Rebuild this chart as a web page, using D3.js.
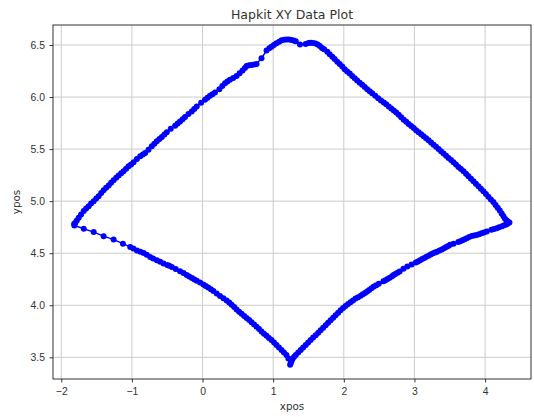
<!DOCTYPE html>
<html lang="en">
<head>
    <meta charset="UTF-8">
    <title>Hapkit XY Data Plot</title>
    <style>
        body { margin: 0; background: #fff; }
        svg { display: block; font-family: "DejaVu Sans", sans-serif; }
        .grid line { stroke: #cccccc; stroke-width: 1; }
        .axis path, .axis line { stroke: #333; }
        .axis text { fill: #333; font-size: 10.4px; }
    </style>
</head>
<body>
    <svg id="chart" width="534" height="417"></svg>

    <script src="https://d3js.org/d3.v7.min.js"></script>
    <script>
        // traced positions, edge by edge, in drawing order
        // left corner -> top
        const xUpperLeft = [
            -1.800, -1.780, -1.753, -1.720, -1.682, -1.648, -1.612, -1.578, -1.541, -1.505,
            -1.471, -1.435, -1.400, -1.365, -1.329, -1.295, -1.259, -1.222, -1.188, -1.152,
            -1.118, -1.082, -1.047, -1.012, -0.976, -0.930, -0.882, -0.845, -0.812, -0.765,
            -0.718, -0.682, -0.647, -0.610, -0.576, -0.540, -0.506, -0.450, -0.388, -0.352,
            -0.318, -0.282, -0.247, -0.200, -0.153, -0.118, -0.082, -0.020, 0.035, 0.070,
            0.106, 0.140, 0.176, 0.238, 0.280, 0.318, 0.352, 0.388, 0.435, 0.482,
            0.525, 0.567, 0.600, 0.624, 0.660, 0.694, 0.730, 0.765, 0.835, 0.906,
            0.945, 0.976, 1.010
        ];
        const yUpperLeft = [
            4.793, 4.815, 4.841, 4.872, 4.905, 4.930, 4.952, 4.978, 5.000, 5.025,
            5.048, 5.078, 5.106, 5.128, 5.150, 5.176, 5.201, 5.224, 5.246, 5.268,
            5.288, 5.312, 5.335, 5.352, 5.374, 5.404, 5.431, 5.448, 5.463, 5.495,
            5.527, 5.552, 5.575, 5.597, 5.616, 5.640, 5.661, 5.695, 5.725, 5.746,
            5.766, 5.787, 5.808, 5.836, 5.862, 5.886, 5.910, 5.945, 5.974, 5.994,
            6.012, 6.028, 6.044, 6.076, 6.105, 6.133, 6.150, 6.165, 6.184, 6.203,
            6.228, 6.254, 6.280, 6.299, 6.305, 6.309, 6.312, 6.318, 6.372, 6.446,
            6.468, 6.484, 6.500
        ];
        // across the top
        const xTop = [
            1.047, 1.085, 1.120, 1.155, 1.190, 1.225, 1.260, 1.290, 1.320, 1.380,
            1.460, 1.500, 1.530, 1.565, 1.600, 1.630, 1.660, 1.690, 1.720
        ];
        const yTop = [
            6.516, 6.532, 6.545, 6.550, 6.552, 6.552, 6.548, 6.542, 6.535, 6.505,
            6.510, 6.518, 6.522, 6.520, 6.515, 6.505, 6.490, 6.472, 6.458
        ];
        // top -> right corner
        const xUpperRight = [
            1.766, 1.800, 1.837, 1.870, 1.907, 1.942, 1.978, 2.012, 2.048, 2.084,
            2.119, 2.155, 2.189, 2.225, 2.260, 2.296, 2.331, 2.366, 2.401, 2.445,
            2.486, 2.526, 2.566, 2.600, 2.636, 2.672, 2.707, 2.742, 2.777, 2.812,
            2.848, 2.884, 2.918, 2.954, 2.989, 3.024, 3.059, 3.095, 3.130, 3.165,
            3.200, 3.235, 3.271, 3.306, 3.341, 3.376, 3.412, 3.448, 3.482, 3.518,
            3.553, 3.588, 3.623, 3.658, 3.694, 3.730, 3.764, 3.800, 3.835, 3.870,
            3.906, 3.940, 3.976, 4.012, 4.047, 4.082, 4.117, 4.148, 4.178, 4.208,
            4.235, 4.260, 4.282, 4.305, 4.320, 4.345
        ];
        const yUpperRight = [
            6.436, 6.412, 6.388, 6.365, 6.340, 6.318, 6.293, 6.268, 6.245, 6.225,
            6.203, 6.180, 6.159, 6.138, 6.117, 6.097, 6.076, 6.056, 6.037, 6.012,
            5.989, 5.968, 5.948, 5.930, 5.910, 5.890, 5.871, 5.852, 5.830, 5.806,
            5.782, 5.762, 5.741, 5.722, 5.702, 5.680, 5.661, 5.642, 5.623, 5.604,
            5.584, 5.563, 5.543, 5.522, 5.501, 5.479, 5.457, 5.436, 5.415, 5.395,
            5.374, 5.352, 5.329, 5.308, 5.287, 5.263, 5.240, 5.216, 5.192, 5.168,
            5.144, 5.120, 5.096, 5.069, 5.042, 5.016, 4.991, 4.964, 4.937, 4.910,
            4.882, 4.856, 4.831, 4.815, 4.805, 4.795
        ];
        // right corner -> bottom
        const xLowerRight = [
            4.320, 4.300, 4.270, 4.240, 4.200, 4.165, 4.128, 4.090, 4.024, 3.985,
            3.950, 3.915, 3.880, 3.845, 3.811, 3.775, 3.741, 3.710, 3.680, 3.650,
            3.620, 3.553, 3.505, 3.478, 3.450, 3.420, 3.388, 3.355, 3.320, 3.290,
            3.260, 3.230, 3.200, 3.170, 3.140, 3.110, 3.080, 3.050, 3.020, 2.960,
            2.900, 2.844, 2.790, 2.760, 2.730, 2.705, 2.683, 2.650, 2.620, 2.590,
            2.561, 2.495, 2.460, 2.425, 2.392, 2.360, 2.330, 2.300, 2.270, 2.240,
            2.203, 2.166, 2.130, 2.095, 2.060, 2.025, 1.990, 1.954, 1.920, 1.884,
            1.850, 1.813, 1.778, 1.743, 1.708, 1.672, 1.638, 1.602, 1.566, 1.531,
            1.496, 1.461, 1.425, 1.390, 1.355, 1.320, 1.295, 1.273, 1.260, 1.249,
            1.240
        ];
        const yLowerRight = [
            4.785, 4.775, 4.768, 4.760, 4.750, 4.741, 4.733, 4.725, 4.709, 4.700,
            4.692, 4.683, 4.675, 4.670, 4.665, 4.655, 4.645, 4.635, 4.625, 4.616,
            4.607, 4.592, 4.581, 4.570, 4.560, 4.548, 4.535, 4.525, 4.515, 4.506,
            4.498, 4.487, 4.475, 4.465, 4.455, 4.444, 4.432, 4.421, 4.410, 4.392,
            4.372, 4.352, 4.325, 4.312, 4.300, 4.290, 4.278, 4.265, 4.252, 4.240,
            4.230, 4.206, 4.193, 4.180, 4.164, 4.148, 4.133, 4.118, 4.105, 4.092,
            4.078, 4.064, 4.047, 4.030, 4.012, 3.994, 3.973, 3.952, 3.928, 3.904,
            3.880, 3.857, 3.833, 3.809, 3.785, 3.761, 3.737, 3.713, 3.690, 3.666,
            3.642, 3.618, 3.594, 3.570, 3.546, 3.522, 3.503, 3.484, 3.465, 3.443,
            3.429
        ];
        // bottom -> left corner
        const xLowerLeft = [
            1.215, 1.188, 1.152, 1.118, 1.082, 1.047, 1.012, 0.976, 0.940, 0.906,
            0.870, 0.835, 0.800, 0.765, 0.730, 0.694, 0.660, 0.624, 0.590, 0.553,
            0.518, 0.482, 0.448, 0.412, 0.378, 0.341, 0.295, 0.247, 0.200, 0.153,
            0.118, 0.080, 0.045, 0.012, -0.035, -0.082, -0.115, -0.150, -0.188, -0.224,
            -0.270, -0.318, -0.380, -0.435, -0.470, -0.500, -0.553, -0.600, -0.647, -0.700,
            -0.741, -0.790, -0.835, -0.880, -0.929, -0.980, -1.024, -1.127, -1.259, -1.400,
            -1.541, -1.682, -1.814, -1.818
        ];
        const yLowerLeft = [
            3.490, 3.522, 3.546, 3.570, 3.594, 3.618, 3.642, 3.666, 3.686, 3.707,
            3.727, 3.748, 3.772, 3.795, 3.816, 3.838, 3.858, 3.878, 3.898, 3.918,
            3.938, 3.960, 3.984, 4.006, 4.026, 4.045, 4.068, 4.090, 4.114, 4.137,
            4.155, 4.172, 4.186, 4.200, 4.218, 4.236, 4.248, 4.262, 4.277, 4.292,
            4.310, 4.328, 4.348, 4.368, 4.380, 4.388, 4.402, 4.418, 4.433, 4.450,
            4.464, 4.486, 4.503, 4.515, 4.527, 4.545, 4.560, 4.592, 4.631, 4.664,
            4.703, 4.735, 4.766, 4.780
        ];
        const xTicks = [-2, -1, 0, 1, 2, 3, 4];
        const yTicks = [3.5, 4.0, 4.5, 5.0, 5.5, 6.0, 6.5];

        const xpos = [].concat(xUpperLeft, xTop, xUpperRight, xLowerRight, xLowerLeft);
        const ypos = [].concat(yUpperLeft, yTop, yUpperRight, yLowerRight, yLowerLeft);
        const points = xpos.map((d, i) => [d, ypos[i]]);

        const svg = d3.select("#chart");
        const width = +svg.attr("width");
        const height = +svg.attr("height");
        const margin = {top: 25, right: 3, bottom: 38, left: 53};

        const x = d3.scaleLinear()
            .domain([-2.117, 4.65])
            .range([margin.left, width - margin.right]);
        const y = d3.scaleLinear()
            .domain([3.292, 6.692])
            .range([height - margin.bottom, margin.top]);

        // grid
        const grid = svg.append("g").attr("class", "grid");
        grid.selectAll(".gx").data(xTicks).enter().append("line")
            .attr("x1", d => x(d)).attr("x2", d => x(d))
            .attr("y1", margin.top).attr("y2", height - margin.bottom);
        grid.selectAll(".gy").data(yTicks).enter().append("line")
            .attr("y1", d => y(d)).attr("y2", d => y(d))
            .attr("x1", margin.left).attr("x2", width - margin.right);

        // trace
        svg.append("path")
            .datum(points)
            .attr("fill", "none")
            .attr("stroke", "#0000ff")
            .attr("stroke-width", 1.5)
            .attr("d", d3.line().x(d => x(d[0])).y(d => y(d[1])));

        svg.append("g")
            .selectAll("circle")
            .data(points)
            .enter().append("circle")
            .attr("cx", d => x(d[0]))
            .attr("cy", d => y(d[1]))
            .attr("r", 3)
            .attr("fill", "#0000ff");

        // frame
        svg.append("rect")
            .attr("x", margin.left).attr("y", margin.top)
            .attr("width", width - margin.left - margin.right)
            .attr("height", height - margin.top - margin.bottom)
            .attr("fill", "none").attr("stroke", "#333").attr("stroke-width", 1);

        svg.append("g")
            .attr("class", "axis")
            .attr("transform", `translate(0,${height - margin.bottom})`)
            .call(d3.axisBottom(x).tickValues(xTicks).tickFormat(d3.format("d"))
                .tickSize(3.5).tickPadding(5.5))
            .call(g => g.select(".domain").remove());

        svg.append("g")
            .attr("class", "axis")
            .attr("transform", `translate(${margin.left},0)`)
            .call(d3.axisLeft(y).tickValues(yTicks).tickFormat(d3.format(".1f"))
                .tickSize(3.5).tickPadding(4.5))
            .call(g => g.select(".domain").remove());

        svg.append("text")
            .attr("x", (margin.left + width - margin.right) / 2)
            .attr("y", 19)
            .attr("text-anchor", "middle")
            .attr("font-size", "12.5px")
            .attr("fill", "#333")
            .text("Hapkit XY Data Plot");

        svg.append("text")
            .attr("x", (margin.left + width - margin.right) / 2)
            .attr("y", 409.5)
            .attr("text-anchor", "middle")
            .attr("font-size", "10.4px")
            .attr("fill", "#333")
            .text("xpos");

        svg.append("text")
            .attr("transform", `translate(20,${(margin.top + height - margin.bottom) / 2}) rotate(-90)`)
            .attr("text-anchor", "middle")
            .attr("font-size", "10.4px")
            .attr("fill", "#333")
            .text("ypos");
    </script>
</body>
</html>
